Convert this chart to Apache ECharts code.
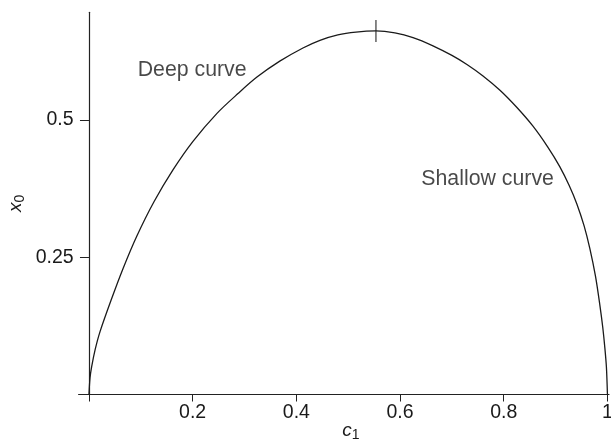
<!DOCTYPE html>
<html>
<head>
<meta charset="utf-8">
<script src="https://cdn.jsdelivr.net/npm/echarts@6/dist/echarts.min.js"></script>
<style>
html,body{margin:0;padding:0;background:#fff;}
#chart{width:611px;height:442px;}
</style>
</head>
<body>
<div id="chart"></div>
<script>
// curve data: c1 (x) and x0 (y)
const curveC1 = [0, 0.002, 0.0052, 0.012, 0.0212, 0.0424, 0.0656, 0.0926, 0.1254, 0.162, 0.2006, 0.2469, 0.2874, 0.324, 0.368, 0.4127, 0.4455, 0.48, 0.515, 0.5535,
  0.59, 0.625, 0.6635, 0.70, 0.729, 0.76, 0.7927, 0.825, 0.856, 0.885, 0.908, 0.926, 0.941, 0.955, 0.966, 0.977, 0.9855, 0.991, 0.995, 0.998, 1.0];
const curveX0 = [0, 0.030, 0.0506, 0.082, 0.114, 0.171, 0.229, 0.289, 0.351, 0.409, 0.461, 0.512, 0.548, 0.578, 0.607, 0.631, 0.645, 0.655, 0.660, 0.662,
  0.6585, 0.650, 0.635, 0.6175, 0.601, 0.580, 0.554, 0.523, 0.489, 0.4505, 0.415, 0.381, 0.347, 0.307, 0.266, 0.215, 0.162, 0.122, 0.085, 0.050, 0];
const peakC1 = [0.5535];
const peakX0 = [0.662];
const xTicks = [0, 0.2, 0.4, 0.6, 0.8, 1];
const xTickLabels = [0.2, 0.4, 0.6, 0.8, 1];
const yTickLabels = [0.25, 0.5];
const annotationNames = ['Deep curve', 'Shallow curve'];
const annotationC1 = [0.094, 0.641];
const annotationX0 = [0.591, 0.392];

const FONT = 'Liberation Sans, Arial, Helvetica, sans-serif';
const TXT = '#1a1a1a';

const chart = echarts.init(document.getElementById('chart'), null, {renderer: 'canvas'});
chart.setOption({
  animation: false,
  backgroundColor: '#fff',
  grid: {left: 78.6, right: 2, top: 12.3, bottom: 47.5, containLabel: false, outerBoundsMode: 'none'},
  xAxis: {
    type: 'value', min: -0.02, max: 1.003,
    splitLine: {show: false},
    axisLine: {lineStyle: {color: '#222', width: 1.2}},
    axisTick: {customValues: xTicks, length: 7, inside: false, lineStyle: {color: '#222'}},
    axisLabel: {customValues: xTickLabels, color: TXT, fontSize: 19.5, fontFamily: FONT, margin: 8},
    name: '{i|c}{s|1}',
    nameLocation: 'middle', nameGap: 24, nameMoveOverlap: false,
    nameTextStyle: {
      padding: [0, 0, 0, 14],
      rich: {
        i: {fontStyle: 'italic', fontSize: 19, fontFamily: FONT, color: TXT},
        s: {fontSize: 14, fontFamily: FONT, color: TXT, padding: [10, 0, 0, 0]}
      }
    }
  },
  yAxis: {
    type: 'value', min: 0, max: 0.696,
    splitLine: {show: false},
    axisLine: {onZero: true, lineStyle: {color: '#222', width: 1.2}},
    axisTick: {customValues: yTickLabels, length: 9, lineStyle: {color: '#222'}},
    axisLabel: {customValues: yTickLabels, color: TXT, fontSize: 19.5, fontFamily: FONT, margin: 5},
    name: '{i|x}{s|0}',
    nameLocation: 'middle', nameRotate: 90, nameGap: 51, nameMoveOverlap: false,
    nameTextStyle: {
      rich: {
        i: {fontStyle: 'italic', fontSize: 19, fontFamily: FONT, color: TXT},
        s: {fontSize: 14, fontFamily: FONT, color: TXT, padding: [10, 0, 0, 0]}
      }
    }
  },
  series: [
    {
      type: 'line', smooth: 0.3, showSymbol: false,
      data: curveC1.map((c, i) => [c, curveX0[i]]),
      lineStyle: {color: '#1a1a1a', width: 1.3},
      z: 3
    },
    {
      type: 'scatter',
      data: peakC1.map((c, i) => [c, peakX0[i]]),
      symbol: 'rect', symbolSize: [1.3, 22],
      itemStyle: {color: '#1a1a1a'},
      z: 4
    },
    {
      type: 'scatter',
      data: annotationNames.map((n, i) => ({name: n, value: [annotationC1[i], annotationX0[i]]})),
      symbolSize: 0,
      label: {show: true, position: 'right', distance: 0, formatter: p => p.name,
        color: TXT, fontSize: 21.3, fontFamily: FONT}
    }
  ]
});
</script>
</body>
</html>
